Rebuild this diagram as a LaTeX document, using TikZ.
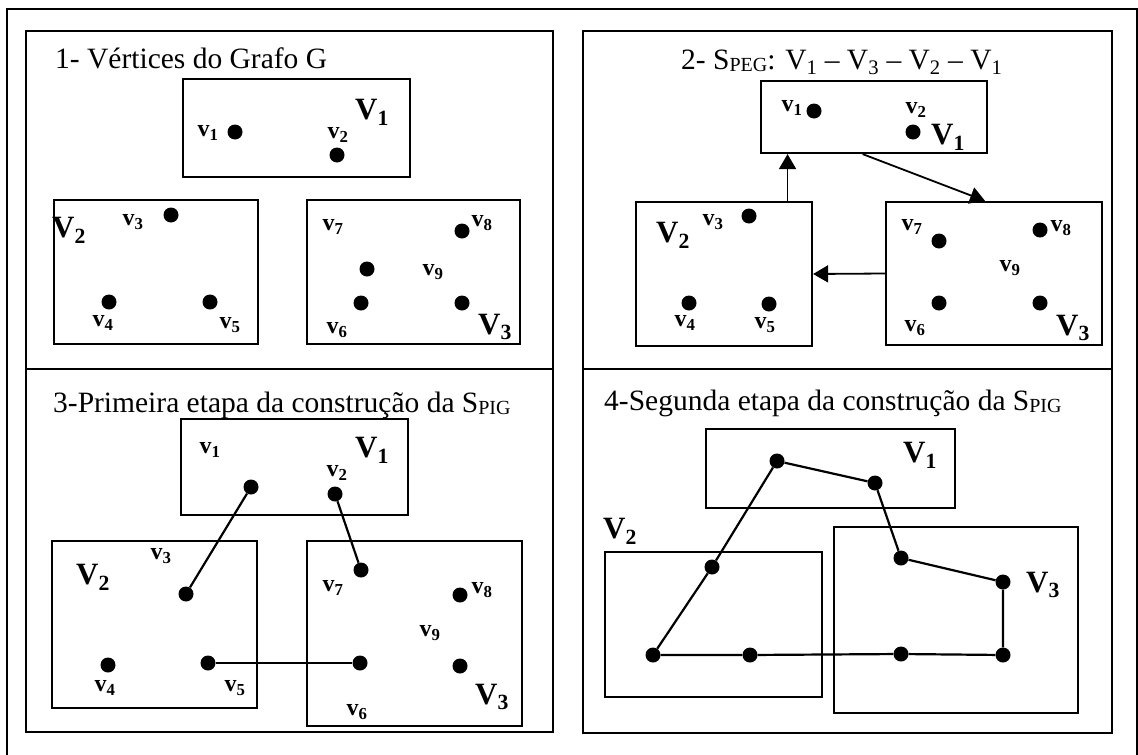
\documentclass[tikz,border=0pt]{standalone}
\usepackage{fontspec}
\setmainfont{Liberation Serif}
\usetikzlibrary{arrows.meta, calc}

\newcommand{\smallidx}[1]{\raisebox{-0.1em}{\fontsize{20}{22}\selectfont #1}}

\begin{document}
\begin{tikzpicture}[
  x=1pt, y=-1pt,
  panel/.style={draw, line width=1.8pt},
  part/.style={rectangle, draw, line width=2.2pt, inner sep=0pt},
  dot/.style={circle, fill, minimum size=15pt, inner sep=0pt},
  lbl/.style={font=\fontsize{24}{26}\selectfont\bfseries, inner sep=0pt},
  big/.style={font=\fontsize{31}{33}\selectfont\bfseries, inner sep=0pt},
  ttl/.style={font=\fontsize{29.5}{32}\selectfont, anchor=base west, inner sep=0pt},
  edge/.style={line width=2.2pt},
  arr/.style={-{Triangle[length=15pt,width=17pt]}, line width=1.8pt},
]
\useasboundingbox (0,0) rectangle (1138,755);

% frame and the four panels
\draw[line width=2.2pt] (7,755) -- (7,9) -- (1137,9) -- (1137,755);
\draw[panel] (26,31) rectangle (553,732);
\draw[panel] (26,369) -- (553,369);
\draw[panel] (583,31) rectangle (1112,733);
\draw[panel] (583,369) -- (1112,369);

% 1 - vertices
\node[ttl] (t1) at (55,68) {1- Vértices do Grafo G};
\node[part, minimum width=227pt, minimum height=98pt] (p1B1) at (296.5,128) {};
\node[part, minimum width=204pt, minimum height=144pt] (p1B2) at (156,272) {};
\node[part, minimum width=213pt, minimum height=144pt] (p1B3) at (413.5,272) {};
\foreach \n/\x/\y in {1/235/132, 2/337/155, 3/171/215, 4/109/302, 5/210/302,
                      6/361/303, 7/367/269, 8/462/231, 9/462/303}
  \node[dot] (p1d\n) at (\x,\y) {};
\foreach \n/\x/\y in {1/208/133, 2/338/135, 3/133/222, 4/103/323, 5/230/325,
                      6/337/330, 7/333/227, 8/482/223, 9/433/272}
  \node[lbl] (p1l\n) at (\x,\y) {v\textsubscript{\n}};
\foreach \n/\x/\y in {1/372/112, 2/69/230, 3/495/327}
  \node[big] (p1L\n) at (\x,\y) {V\textsubscript{\n}};

% 2 - S_PEG
\node[ttl] (t2) at (681,69) {2- S\smallidx{PEG}: V\textsubscript{1} -- V\textsubscript{3} -- V\textsubscript{2} -- V\textsubscript{1}};
\node[part, minimum width=226pt, minimum height=72pt] (p2B1) at (874,117) {};
\node[part, minimum width=176pt, minimum height=144pt] (p2B2) at (724,274) {};
\node[part, minimum width=216pt, minimum height=143pt] (p2B3) at (994,273.5) {};
\foreach \n/\x/\y in {1/814/111, 2/913/132, 3/749/216, 4/689/303, 5/769/304,
                      6/939/303, 7/939/241, 8/1040/230, 9/1040/303}
  \node[dot] (p2d\n) at (\x,\y) {};
\foreach \n/\x/\y in {1/792/108, 2/916/110, 3/713/222, 4/685/323, 5/765/325,
                      6/915/328, 7/912/227, 8/1061/228, 9/1010/268}
  \node[lbl] (p2l\n) at (\x,\y) {v\textsubscript{\n}};
\foreach \n/\x/\y in {1/948/137, 2/673/235, 3/1073/328}
  \node[big] (p2L\n) at (\x,\y) {V\textsubscript{\n}};
\draw[arr] (p2B2.49) -- (p2B2.49 |- p2B1.south);
\draw[arr] (p2B1.253) -- (p2B3.97);
\draw[arr] (p2B3.west) -- (p2B2.east);

% 3 - first step of S_PIG
\node[ttl] (t3) at (53,412) {3-Primeira etapa da construção da S\smallidx{PIG}};
\node[part, minimum width=227pt, minimum height=96pt] (p3B1) at (294.5,467) {};
\node[part, minimum width=205pt, minimum height=167pt] (p3B2) at (154.5,624.5) {};
\node[part, minimum width=215pt, minimum height=185pt] (p3B3) at (414.5,633.5) {};
\foreach \n/\x/\y in {1/251/487, 2/335/494, 3/186/594, 4/108/665, 5/208/663,
                      6/360/663, 7/361/570, 8/460/595, 9/460/666}
  \node[dot] (p3d\n) at (\x,\y) {};
\foreach \n/\x/\y in {1/210/450, 2/337/473, 3/161/556, 4/105/688, 5/235/688,
                      6/357/712, 7/333/588, 8/482/590, 9/430/633}
  \node[lbl] (p3l\n) at (\x,\y) {v\textsubscript{\n}};
\foreach \n/\x/\y in {1/372/450, 2/93/577, 3/492/697}
  \node[big] (p3L\n) at (\x,\y) {V\textsubscript{\n}};
\draw[edge] (p3d1) -- (p3d3);
\draw[edge] (p3d2) -- (p3d7);
\draw[edge] (p3d5) -- (p3d6);

% 4 - second step of S_PIG
\node[ttl] (t4) at (604,410) {4-Segunda etapa da construção da S\smallidx{PIG}};
\node[part, minimum width=249pt, minimum height=79pt] (p4B1) at (830.5,468.5) {};
\node[part, minimum width=217pt, minimum height=145pt] (p4B2) at (713.5,624.5) {};
\node[part, minimum width=244pt, minimum height=186pt] (p4B3) at (956,620) {};
\foreach \n/\x/\y in {1/777/461, 2/875/483, 3/901/558, 4/1003/582, 5/1003/655,
                      6/901/654, 7/750/655, 8/653/655, 9/712/567}
  \node[dot] (p4d\n) at (\x,\y) {};
\foreach \n/\x/\y in {1/920/455, 2/620/531, 3/1043/585}
  \node[big] (p4L\n) at (\x,\y) {V\textsubscript{\n}};
\draw[edge] (p4d1) -- (p4d2) -- (p4d3) -- (p4d4) -- (p4d5) -- (p4d6)
  -- (p4d7) -- (p4d8) -- (p4d9) -- (p4d1);
\end{tikzpicture}
\end{document}
